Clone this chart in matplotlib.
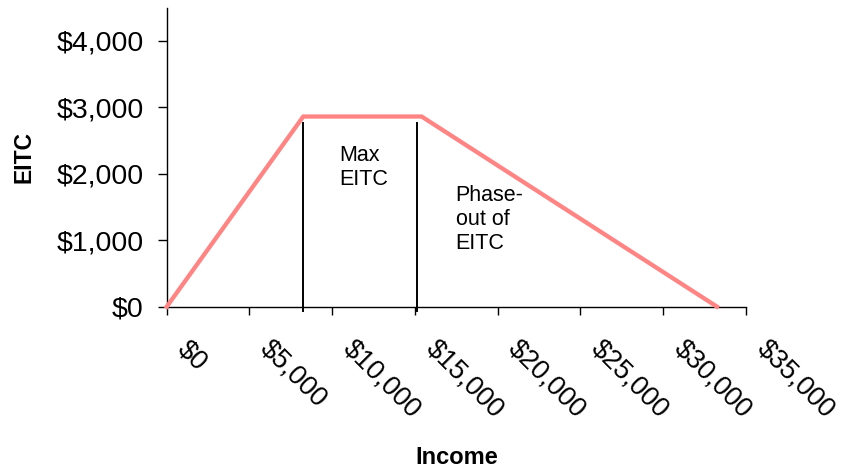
import matplotlib
matplotlib.use('Agg')
import matplotlib.pyplot as plt
import matplotlib.transforms as mtransforms

plt.rcParams['font.family'] = ['Liberation Sans', 'DejaVu Sans']

# EITC schedule: phase-in, plateau, phase-out
income = [0, 8250, 15400, 33250]
eitc = [0, 2860, 2860, 0]

# boundaries of the max-credit range
bounds = [8250, 15100]
bound_top = 2760

xticks = [0, 5000, 10000, 15000, 20000, 25000, 30000, 35000]
yticks = [0, 1000, 2000, 3000, 4000]

fig = plt.figure(figsize=(8.42, 4.71), dpi=100)
ax = fig.add_axes([0.198, 0.3488, 0.688, 0.634])

ax.plot(income, eitc, color='#ff8585', linewidth=3.1, solid_joinstyle='miter',
        zorder=3, clip_on=False)
for b in bounds:
    ax.plot([b, b], [-60, bound_top], color='black', linewidth=1.4, zorder=2,
            clip_on=False)

ax.text(10400, 2430, 'Max\nEITC', fontsize=15.5, va='top', ha='left',
        linespacing=1.2)
ax.text(17450, 1830, 'Phase-\nout of\nEITC', fontsize=15.5, va='top', ha='left',
        linespacing=1.2)

ax.set_xlim(0, 35000)
ax.set_ylim(0, 4490)

ax.set_xticks(xticks)
ax.set_xticklabels(['${:,}'.format(v) for v in xticks], rotation=-45,
                   ha='left', va='top', fontsize=19.5)
ax.set_yticks(yticks)
ax.set_yticklabels(['${:,}'.format(v) for v in yticks], fontsize=20.5)

ax.tick_params(axis='x', direction='out', length=6, width=1, pad=15)
ax.tick_params(axis='y', direction='out', length=6.5, width=1, pad=10)

offset = mtransforms.ScaledTranslation(4 / 72, 0, fig.dpi_scale_trans)
for lab in ax.get_xticklabels():
    lab.set_transform(lab.get_transform() + offset)

for side in ['top', 'right']:
    ax.spines[side].set_visible(False)
for side in ['left', 'bottom']:
    ax.spines[side].set_linewidth(1)

ax.set_xlabel('Income', fontsize=17, fontweight='bold', va='center')
ax.xaxis.set_label_coords(0.5, -0.5065)
ax.set_ylabel('EITC', fontsize=16.5, fontweight='bold', va='center')
ax.yaxis.set_label_coords(-0.246, 0.5)

fig.savefig('out.png', dpi=100)
